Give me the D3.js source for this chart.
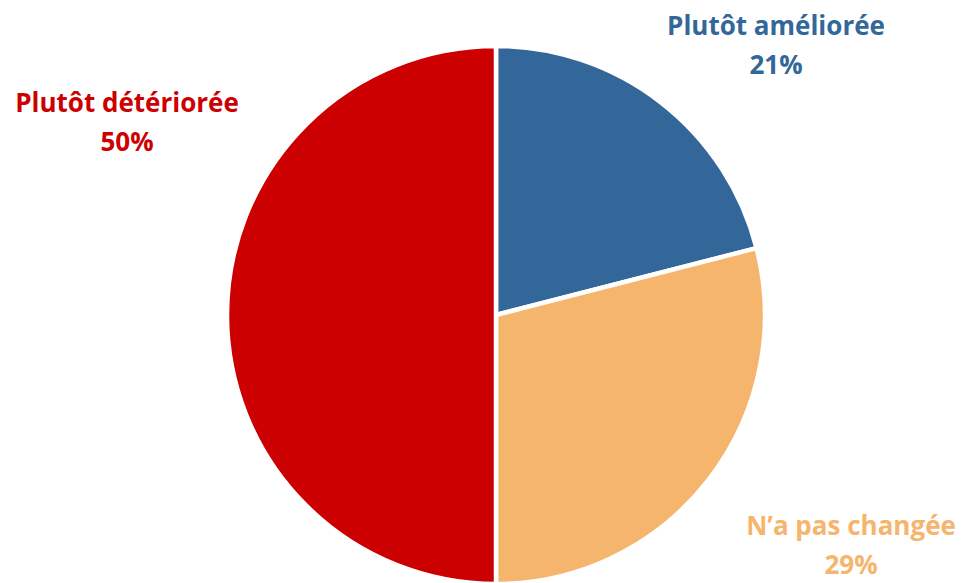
<!DOCTYPE html>
<html>
<head>
<meta charset="utf-8">
<script src="https://cdn.jsdelivr.net/npm/d3@7"></script>
<style>
  body { margin: 0; background: #fff; }
  svg { display: block; }
  .lbl { font-family: "Open Sans", Lato, sans-serif; font-weight: bold; font-size: 26px; }
</style>
</head>
<body>
<svg width="961" height="583"></svg>
<script>
// chart values
var categories = ["Plutôt améliorée", "N\u2019a pas changée", "Plutôt détériorée"];
var values = [21, 29, 50];
var colors = ["#346799", "#F6B56D", "#CC0000"];
var labelPos = [[776, 35], [851, 535], [127, 112]];

var svg = d3.select("svg"),
    cx = 496, cy = 315, radius = 269;

var pie = d3.pie().sort(null).value(function(d) { return d; });
var arc = d3.arc().innerRadius(0).outerRadius(radius);

var g = svg.append("g").attr("transform", "translate(" + cx + "," + cy + ")");

g.selectAll("path")
  .data(pie(values))
  .enter().append("path")
    .attr("d", arc)
    .attr("fill", function(d, i) { return colors[i]; })
    .attr("stroke", "#fff")
    .attr("stroke-width", 4.5)
    .attr("stroke-linejoin", "round");

var lbl = svg.selectAll(".lbl")
  .data(categories)
  .enter().append("text")
    .attr("class", "lbl")
    .attr("text-anchor", "middle")
    .attr("fill", function(d, i) { return colors[i]; })
    .attr("transform", function(d, i) { return "translate(" + labelPos[i][0] + "," + labelPos[i][1] + ")"; });

lbl.append("tspan").attr("x", 0).attr("y", 0).text(function(d) { return d; });
lbl.append("tspan").attr("x", 0).attr("y", 39).text(function(d, i) { return values[i] + "%"; });
</script>
</body>
</html>
